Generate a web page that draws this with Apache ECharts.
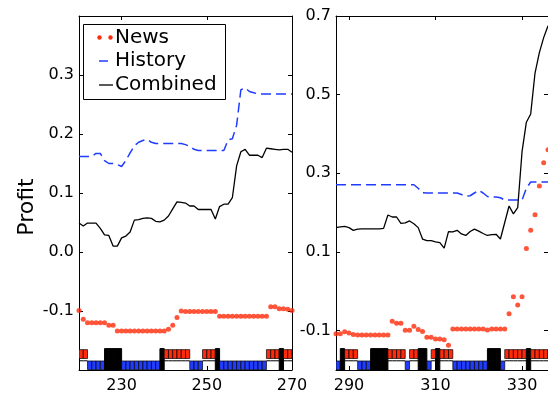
<!DOCTYPE html>
<html>
<head>
<meta charset="utf-8">
<script src="https://cdn.jsdelivr.net/npm/echarts@6/dist/echarts.min.js"></script>
<style>
  html, body { margin: 0; padding: 0; background: #fff; }
  #main { width: 548px; height: 394px; }
</style>
</head>
<body>
<div id="main"></div>
<script>
// left panel: days 220..270
var leftDays = [220,221,222,223,224,225,226,227,228,229,230,231,232,233,234,235,236,237,238,239,
  240,241,242,243,244,245,246,247,248,249,250,251,252,253,254,255,256,257,258,259,
  260,261,262,263,264,265,266,267,268,269,270];
var leftNews = [-0.099,-0.114,-0.120,-0.120,-0.120,-0.120,-0.120,-0.124,-0.124,-0.134,
  -0.134,-0.134,-0.134,-0.134,-0.134,-0.134,-0.134,-0.134,-0.134,-0.134,
  -0.134,-0.131,-0.124,-0.111,-0.100,-0.101,-0.101,-0.101,-0.101,-0.101,
  -0.101,-0.101,-0.101,-0.109,-0.109,-0.109,-0.109,-0.109,-0.109,-0.109,
  -0.109,-0.109,-0.109,-0.109,-0.109,-0.093,-0.093,-0.096,-0.096,-0.097,
  -0.099];
var leftHistory = [0.162,0.162,0.162,0.162,0.167,0.167,0.155,0.150,0.150,0.148,
  0.145,0.155,0.168,0.180,0.186,0.189,0.191,0.186,0.184,0.184,
  0.184,0.184,0.184,0.184,0.184,0.182,0.179,0.174,0.172,0.172,
  0.172,0.172,0.172,0.172,0.172,0.190,0.192,0.215,0.275,0.278,
  0.272,0.270,0.268,0.268,0.268,0.268,0.268,0.268,0.268,0.268,
  0.268];
var leftCombined = [0.049,0.044,0.049,0.049,0.049,0.040,0.029,0.028,0.010,0.010,
  0.024,0.027,0.034,0.054,0.055,0.057,0.058,0.057,0.052,0.051,
  0.054,0.061,0.073,0.085,0.084,0.083,0.078,0.078,0.072,0.072,
  0.072,0.072,0.056,0.077,0.081,0.081,0.092,0.146,0.170,0.174,
  0.164,0.164,0.164,0.160,0.176,0.175,0.174,0.173,0.174,0.174,
  0.169];
// position strip, one per day from 220: R = news row, B = history row, K = both
var leftPos = 'RRBBBBKKKKBBBBBBBBBKRRRRRRBBBRRRKBBBBBBBBBBBRRRKRR'.split('');

// right panel: days 287..336
var rightDays = [287,288,289,290,291,292,293,294,295,296,297,298,299,300,301,302,303,304,305,306,
  307,308,309,310,311,312,313,314,315,316,317,318,319,320,321,322,323,324,325,326,
  327,328,329,330,331,332,333,334,335,336];
var rightNews = [-0.108,-0.108,-0.103,-0.106,-0.110,-0.111,-0.111,-0.111,-0.111,-0.111,
  -0.111,-0.111,-0.111,-0.076,-0.081,-0.081,-0.099,-0.099,-0.089,-0.097,
  -0.102,-0.117,-0.117,-0.121,-0.121,-0.123,-0.137,-0.096,-0.096,-0.096,
  -0.096,-0.096,-0.096,-0.096,-0.096,-0.098,-0.096,-0.096,-0.096,-0.096,
  -0.057,-0.014,-0.035,-0.014,0.109,0.155,0.195,0.268,0.327,0.360];
var rightHistory = [0.271,0.271,0.271,0.271,0.271,0.271,0.271,0.271,0.271,0.271,
  0.271,0.271,0.271,0.271,0.271,0.271,0.271,0.271,0.271,0.262,
  0.251,0.250,0.250,0.250,0.250,0.250,0.250,0.250,0.250,0.246,
  0.242,0.243,0.250,0.257,0.250,0.241,0.240,0.240,0.238,0.232,
  0.232,0.232,0.232,0.232,0.262,0.278,0.278,0.278,0.278,0.278];
var rightCombined = [0.162,0.164,0.165,0.162,0.155,0.158,0.159,0.159,0.159,0.159,
  0.159,0.160,0.194,0.189,0.189,0.173,0.174,0.179,0.172,0.162,
  0.133,0.129,0.129,0.126,0.124,0.110,0.152,0.151,0.155,0.146,
  0.142,0.152,0.158,0.153,0.147,0.142,0.144,0.145,0.133,0.175,
  0.217,0.197,0.213,0.355,0.430,0.451,0.555,0.607,0.645,0.675];
var rightPos = 'BKRRRBBBKKKKRRRRBRRKKBRKRRRBBBBBBBBKKKBRRRRRKRRRRR'.split('');

var leftXTicks = [230, 250, 270];
var rightXTicks = [290, 310, 330];
var leftYTicks = [-0.1, 0.0, 0.1, 0.2, 0.3];
var rightYTicks = [-0.1, 0.1, 0.3, 0.5, 0.7];

var FONT = 'DejaVu Sans';
var RED = '#ff2a0a';
var BLUE = '#1f3cff';

var chart = echarts.init(document.getElementById('main'));

function xPair(grid, min, max, ticks) {
  var line = { show: true, onZero: false, lineStyle: { color: '#000', width: 1 } };
  var tick = { show: true, inside: true, length: 4, customValues: ticks, lineStyle: { color: '#000', width: 1 } };
  return [
    { gridIndex: grid, type: 'value', min: min, max: max, position: 'bottom',
      axisLine: line, axisTick: tick, splitLine: { show: false },
      axisLabel: { customValues: ticks, margin: 8, color: '#000', fontSize: 16, fontFamily: FONT } },
    { gridIndex: grid, type: 'value', min: min, max: max, position: 'top',
      axisLine: line, axisTick: tick, splitLine: { show: false }, axisLabel: { show: false } }
  ];
}

function yTrio(grid, min, max, ticks) {
  var line = { show: true, onZero: false, lineStyle: { color: '#000', width: 1 } };
  var tick = { show: true, inside: true, length: 4, customValues: ticks, lineStyle: { color: '#000', width: 1 } };
  return [
    { gridIndex: grid, type: 'value', min: min, max: max, position: 'left',
      axisLine: line, axisTick: tick, splitLine: { show: false },
      axisLabel: { customValues: ticks, margin: 5, color: '#000', fontSize: 16, fontFamily: FONT,
        formatter: function (v) { return v.toFixed(1); } } },
    { gridIndex: grid, type: 'value', min: min, max: max, position: 'right',
      axisLine: line, axisTick: tick, splitLine: { show: false }, axisLabel: { show: false } },
    // 0..1 fraction of plot height, used for the position strip
    { gridIndex: grid, type: 'value', min: 0, max: 1, show: false }
  ];
}

function strip(codes) {
  return function (params, api) {
    var code = codes[params.dataIndex];
    var x = api.value(0);
    function box(y0, y1) {
      var a = api.coord([x, y0]);
      var b = api.coord([x + 1, y1]);
      return { x: a[0], y: b[1], width: b[0] - a[0], height: a[1] - b[1] };
    }
    if (code === 'K') {
      return { type: 'rect', shape: box(0, 0.0605), style: { fill: '#000', stroke: '#000', lineWidth: 1 } };
    }
    if (code === 'B') {
      return { type: 'rect', shape: box(0.001, 0.0255), style: { fill: BLUE, stroke: '#000', lineWidth: 0.7 } };
    }
    var a = api.coord([x, 0.026]);
    var b = api.coord([x + 1, 0.026]);
    return { type: 'group', children: [
      { type: 'rect', shape: box(0.0325, 0.0575), style: { fill: RED, stroke: '#000', lineWidth: 0.7 } },
      { type: 'line', shape: { x1: a[0], y1: a[1], x2: b[0], y2: b[1] }, style: { stroke: '#000', lineWidth: 1 } }
    ] };
  };
}

function panelSeries(xi, yi, fi, days, news, history, combined, pos) {
  return [
    { type: 'custom', xAxisIndex: xi, yAxisIndex: fi, clip: true,
      data: pos.map(function (c, i) { return [days[i], 0]; }),
      renderItem: strip(pos), z: 2 },
    { type: 'scatter', xAxisIndex: xi, yAxisIndex: yi, symbolSize: 5,
      itemStyle: { color: RED }, data: days.map(function (d, i) { return [d, news[i]]; }), z: 3 },
    { type: 'line', xAxisIndex: xi, yAxisIndex: yi, symbol: 'none', clip: true,
      lineStyle: { color: BLUE, width: 1.5, type: [10, 5] },
      data: days.map(function (d, i) { return [d, history[i]]; }), z: 3 },
    { type: 'line', xAxisIndex: xi, yAxisIndex: yi, symbol: 'none', clip: true,
      lineStyle: { color: '#000', width: 1.3 },
      data: days.map(function (d, i) { return [d, combined[i]]; }), z: 4 }
  ];
}

chart.setOption({
  animation: false,
  backgroundColor: '#fff',
  grid: [
    { left: 79, top: 16, width: 213, height: 357 },
    { left: 336, top: 16, width: 213, height: 357 }
  ],
  xAxis: xPair(0, 220, 270, leftXTicks).concat(xPair(1, 287, 336, rightXTicks)),
  yAxis: yTrio(0, -0.2, 0.4, leftYTicks).concat(yTrio(1, -0.2, 0.7, rightYTicks)),
  series: panelSeries(0, 0, 2, leftDays, leftNews, leftHistory, leftCombined, leftPos)
    .concat(panelSeries(2, 3, 5, rightDays, rightNews, rightHistory, rightCombined, rightPos)),
  graphic: [
    { type: 'text', x: 27, y: 207, rotation: Math.PI / 2,
      style: { text: 'Profit', fontSize: 22, fontFamily: FONT, fill: '#000', align: 'center', verticalAlign: 'middle' } },
    { type: 'group', z: 100, children: [
      { type: 'rect', shape: { x: 83.5, y: 24.5, width: 142, height: 75 },
        style: { fill: '#fff', stroke: '#000', lineWidth: 1 } },
      { type: 'circle', shape: { cx: 99.5, cy: 37.5, r: 2.2 }, style: { fill: RED } },
      { type: 'circle', shape: { cx: 110.5, cy: 37.5, r: 2.2 }, style: { fill: RED } },
      { type: 'line', shape: { x1: 99, y1: 61, x2: 108, y2: 61 }, style: { stroke: BLUE, lineWidth: 1.5 } },
      { type: 'line', shape: { x1: 99, y1: 85, x2: 113, y2: 85 }, style: { stroke: '#000', lineWidth: 1.3 } },
      { type: 'text', x: 115, y: 37.5, style: { text: 'News', fontSize: 20, fontFamily: FONT, fill: '#000', verticalAlign: 'middle' } },
      { type: 'text', x: 115, y: 61, style: { text: 'History', fontSize: 20, fontFamily: FONT, fill: '#000', verticalAlign: 'middle' } },
      { type: 'text', x: 115, y: 85, style: { text: 'Combined', fontSize: 20, fontFamily: FONT, fill: '#000', verticalAlign: 'middle' } }
    ] }
  ]
});
</script>
</body>
</html>
